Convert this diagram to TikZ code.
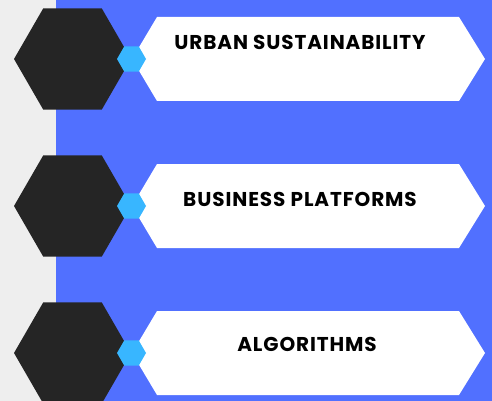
\documentclass[tikz,border=0pt]{standalone}
\usepackage{fontspec}
\setmainfont{Poppins}
\newfontfamily\bannerfont[LetterSpace = 4.5]{Poppins}
\usetikzlibrary{shapes.geometric}

\begin{document}
\begin{tikzpicture}[x = 1pt, y = -1pt]
			\definecolor{paperGray}{HTML}{EEEEEE}
			\definecolor{panelBlue}{HTML}{5170FF}
			\definecolor{hexDark}{HTML}{252525}
			\definecolor{hexCyan}{HTML}{38B6FF}
			\tikzset{
				hexBig/.style = {regular polygon, regular polygon sides = 6, minimum size = 117pt, inner sep = 0pt, outer sep = 0pt, fill = hexDark},
				hexSmall/.style = {regular polygon, regular polygon sides = 6, minimum size = 29pt, inner sep = 0pt, outer sep = 0pt, fill = hexCyan},
				label/.style = {font = \bannerfont\bfseries\fontsize{20}{24}\selectfont, text = black, inner sep = 0pt}
			}
			\useasboundingbox (0,0) rectangle (492,401);
			\clip (0,0) rectangle (492,401);
			\fill[paperGray] (0,0) rectangle (56,401);
			\fill[panelBlue] (56,0) rectangle (492,401);
			
			\foreach \cy/\tx/\ty/\txt [count = \i] in {59/300/42/URBAN SUSTAINABILITY, 206/300/199/BUSINESS PLATFORMS, 353/307/344/ALGORITHMS}{
				
				\node[hexBig] (hex\i) at (72.5,\cy) {};
				\fill[white] (132,\cy) -- (157,\cy-42) -- (459,\cy-42) -- (485,\cy) -- (459,\cy+42) -- (157,\cy+42) -- cycle;
				\node[hexSmall] (dot\i) at (131.5,\cy) {};
				\node[label] (text\i) at (\tx,\ty) {\txt};
			}
		\end{tikzpicture}
\end{document}
